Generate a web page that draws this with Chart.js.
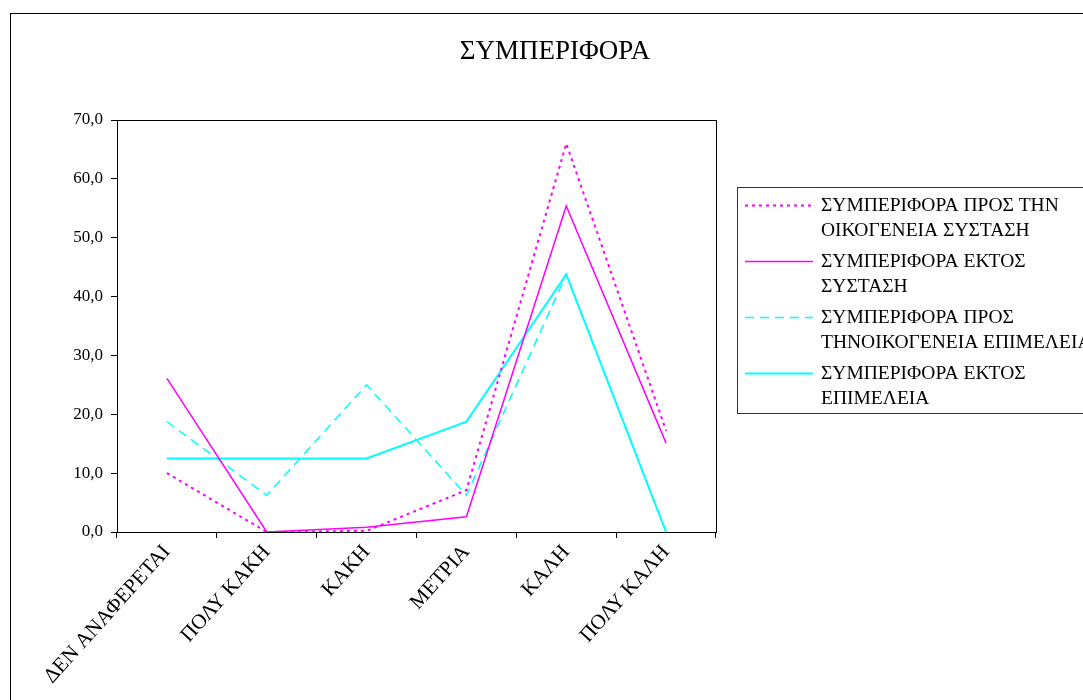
<!DOCTYPE html>
<html>
<head>
<meta charset="utf-8">
<script src="https://cdn.jsdelivr.net/npm/chart.js@4"></script>
<style>
  body { margin: 0; background: #fff; }
  canvas { display: block; }
</style>
</head>
<body>
<canvas id="behaviourChart" width="1083" height="700"></canvas>
<script>
// Συμπεριφορά - δεδομένα

const categories = ["ΔΕΝ ΑΝΑΦΕΡΕΤΑΙ", "ΠΟΛΥ ΚΑΚΗ", "ΚΑΚΗ", "ΜΕΤΡΙΑ", "ΚΑΛΗ", "ΠΟΛΥ ΚΑΛΗ"];

const familySystasi = [10.0, 0.0, 0.2, 7.1, 66.0, 17.2];
const outsideSystasi = [26.1, 0.0, 0.8, 2.6, 55.4, 15.1];
const familyEpimeleia = [18.75, 6.25, 25.0, 6.25, 43.75, 0.0];
const outsideEpimeleia = [12.5, 12.5, 12.5, 18.75, 43.75, 0.0];

const seriesNames = [
  ["ΣΥΜΠΕΡΙΦΟΡΑ ΠΡΟΣ ΤΗΝ", "ΟΙΚΟΓΕΝΕΙΑ ΣΥΣΤΑΣΗ"],
  ["ΣΥΜΠΕΡΙΦΟΡΑ ΕΚΤΟΣ", "ΣΥΣΤΑΣΗ"],
  ["ΣΥΜΠΕΡΙΦΟΡΑ ΠΡΟΣ", "ΤΗΝΟΙΚΟΓΕΝΕΙΑ ΕΠΙΜΕΛΕΙΑ"],
  ["ΣΥΜΠΕΡΙΦΟΡΑ ΕΚΤΟΣ", "ΕΠΙΜΕΛΕΙΑ"],
];

const chartTitle = "ΣΥΜΠΕΡΙΦΟΡΑ";
const yTicks = [0, 10, 20, 30, 40, 50, 60, 70];

const serif = "'Liberation Serif', 'Times New Roman', serif";

// cadre, titre, boite autour du graphique, legende
const framePlugin = {
  id: "frame",
  afterDraw(chart) {
    const ctx = chart.ctx;
    const a = chart.chartArea;
    ctx.save();
    ctx.strokeStyle = "#000";
    ctx.lineWidth = 1;
    ctx.setLineDash([]);
    ctx.strokeRect(10.5, 13.5, 1200, 800);
    ctx.strokeRect(Math.round(a.left) + 0.5, Math.round(a.top) + 0.5,
      Math.round(a.right - a.left), Math.round(a.bottom - a.top));

    // titre
    ctx.fillStyle = "#000";
    ctx.font = "27px " + serif;
    ctx.textAlign = "center";
    ctx.textBaseline = "middle";
    ctx.fillText(chartTitle, 555, 52);

    // legende
    const lx = 737, ly = 187;
    ctx.strokeStyle = "#333";
    ctx.strokeRect(lx + 0.5, ly + 0.5, 400, 226);
    ctx.font = "19.5px " + serif;
    ctx.textAlign = "left";
    chart.data.datasets.forEach((ds, i) => {
      const y = ly + 18 + i * 56;
      ctx.strokeStyle = ds.borderColor;
      ctx.lineWidth = ds.borderWidth;
      ctx.setLineDash(ds.borderDash || []);
      ctx.beginPath();
      ctx.moveTo(lx + 8, y + 0.5);
      ctx.lineTo(lx + 76, y + 0.5);
      ctx.stroke();
      seriesNames[i].forEach((line, j) => {
        ctx.fillText(line, lx + 84, y + 1 + j * 25);
      });
    });
    ctx.restore();
  },
};

const chart = new Chart(document.querySelector("#behaviourChart"), {
  type: "line",
  data: {
    labels: categories,
    datasets: [
      {
        label: seriesNames[0].join(" "),
        data: familySystasi,
        borderColor: "#ff00ff",
        borderWidth: 2,
        borderDash: [3, 4],
      },
      {
        label: seriesNames[1].join(" "),
        data: outsideSystasi,
        borderColor: "#ff00ff",
        borderWidth: 1.5,
      },
      {
        label: seriesNames[2].join(" "),
        data: familyEpimeleia,
        borderColor: "#00ffff",
        borderWidth: 1.5,
        borderDash: [9, 6],
      },
      {
        label: seriesNames[3].join(" "),
        data: outsideEpimeleia,
        borderColor: "#00ffff",
        borderWidth: 2,
      },
    ],
  },
  options: {
    responsive: false,
    animation: false,
    elements: {
      point: { radius: 0 },
      line: { tension: 0 },
    },
    layout: {
      padding: { left: 0, right: 367, top: 120, bottom: 0 },
    },
    plugins: {
      legend: { display: false },
      tooltip: { enabled: false },
      title: { display: false },
    },
    scales: {
      x: {
        offset: true,
        grid: {
          offset: true,
          drawOnChartArea: false,
          drawTicks: true,
          tickLength: 6,
          color: "#000",
        },
        border: { color: "#000", width: 1 },
        ticks: {
          color: "#000",
          font: { family: serif, size: 21 },
          minRotation: 48,
          maxRotation: 48,
          padding: 2,
        },
        afterFit(scale) {
          scale.height = 168;
        },
      },
      y: {
        min: 0,
        max: 70,
        afterBuildTicks(scale) {
          scale.ticks = yTicks.map((v) => ({ value: v }));
        },
        grid: {
          drawOnChartArea: false,
          drawTicks: true,
          tickLength: 6,
          color: "#000",
        },
        border: { color: "#000", width: 1 },
        ticks: {
          color: "#000",
          font: { family: serif, size: 17 },
          padding: 8,
          callback: (v) => v.toFixed(1).replace(".", ","),
        },
        afterFit(scale) {
          scale.width = 117;
        },
      },
    },
  },
  plugins: [framePlugin],
});
</script>
</body>
</html>
